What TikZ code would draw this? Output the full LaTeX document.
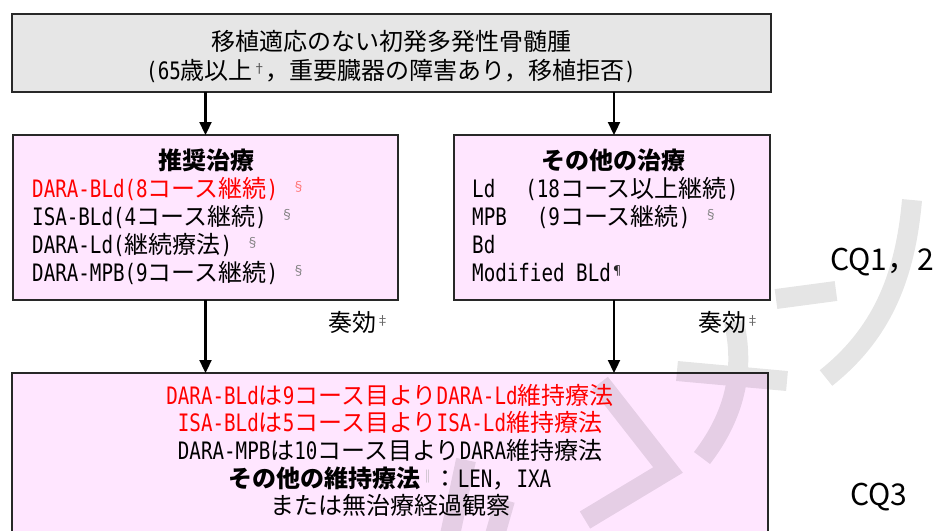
\documentclass[tikz,border=0pt]{standalone}
\usepackage{fontspec}
\setmainfont{Noto Sans CJK JP}
\newfontfamily\mono[FakeStretch=0.8]{DejaVu Sans Mono}
\usetikzlibrary{arrows.meta}
\definecolor{boxpink}{RGB}{255,230,255}
\definecolor{boxgray}{RGB}{230,230,230}
\definecolor{edgec}{RGB}{40,40,40}
\newcommand\mm[1]{{\mono #1}}
\newcommand\fnm[2]{\raisebox{6pt}{\fontsize{13}{13}\selectfont\textcolor{#1}{#2}}}
\begin{document}
\begin{tikzpicture}[x=1pt,y=-1pt,
  boxnode/.style={draw=edgec, line width=1.8pt, inner sep=0pt, outer sep=0pt, anchor=north west},
  txt/.style={anchor=base west, inner sep=0pt, font=\fontsize{24}{28}\selectfont},
  ctxt/.style={anchor=base, inner sep=0pt, font=\fontsize{24}{28}\selectfont},
  ttl/.style={anchor=base, inner sep=0pt, font=\fontsize{24}{28}\selectfont\bfseries},
  cqtxt/.style={anchor=base west, inner sep=0pt, font=\fontsize{30}{34}\selectfont},
  arr/.style={line width=2.3pt, -{Triangle[length=13pt,width=12pt]}},
  wm/.style={line width=20pt, black, line join=miter}]
\useasboundingbox (0,0) rectangle (934,530);
\clip (0,0) rectangle (934,530);
\fill[white] (0,0) rectangle (934,530);

% boxes
\node[boxnode, fill=boxgray, minimum width=759pt, minimum height=78pt] (top) at (12,14) {};
\node[boxnode, fill=boxpink, minimum width=385pt, minimum height=165pt] (rec) at (13,135) {};
\node[boxnode, fill=boxpink, minimum width=316pt, minimum height=165pt] (oth) at (454,135) {};
\node[boxnode, fill=boxpink, minimum width=756pt, minimum height=180pt] (maint) at (12,373) {};

% connectors
\draw[arr] (top.south -| rec.north) -- (rec.north);
\draw[arr] ([xshift=2pt]oth.north |- top.south) -- ([xshift=2pt]oth.north);
\draw[arr] (rec.south) -- (rec.south |- maint.north);
\draw[arr] ([xshift=2pt]oth.south) -- ([xshift=2pt]oth.south |- maint.north);

% watermark strokes
\begin{scope}[transparency group, opacity=0.1]
\draw[wm] (600,383) -- (668,470) -- (585,520);
\draw[wm] (677,371) -- (787,381);
\draw[wm] (734,322) .. controls (745,370) and (735,415) .. (702,458);
\draw[wm] (776,299) -- (836,291);
\draw[wm] (912,200) .. controls (905,280) and (880,335) .. (826,378);
\draw[wm] (466,460) -- (450,535);
\draw[wm] (505,500) -- (495,535);
\end{scope}

% top box text
\node[ctxt] (t1) at (391,50) {移植適応のない初発多発性骨髄腫};
\node[ctxt] (t2) at (391,79) {\mm{(65}歳以上\fnm{black!70}{†}，重要臓器の障害あり，移植拒否\mm{)}};

% recommended
\node[ttl] (rt) at (206,169) {推奨治療};
\node[txt, text=red] (r1) at (32,197) {\mm{DARA-BLd(8}コース継続\mm{)}\hspace{14pt}\fnm{red!55}{§}};
\node[txt] (r2) at (32,225) {\mm{ISA-BLd(4}コース継続\mm{)}\hspace{14pt}\fnm{black!50}{§}};
\node[txt] (r3) at (32,253) {\mm{DARA-Ld(}継続療法\mm{)}\hspace{14pt}\fnm{black!50}{§}};
\node[txt] (r4) at (32,281) {\mm{DARA-MPB(9}コース継続\mm{)}\hspace{14pt}\fnm{black!50}{§}};

% other
\node[ttl] (ot) at (613,169) {その他の治療};
\node[txt] (o1) at (472,197) {\mm{Ld}\hspace{30pt}\mm{(18}コース以上継続\mm{)}};
\node[txt] (o2) at (472,225) {\mm{MPB}\hspace{30pt}\mm{(9}コース継続\mm{)}\hspace{14pt}\fnm{black!50}{§}};
\node[txt] (o3) at (472,253) {\mm{Bd}};
\node[txt] (o4) at (472,281) {\mm{Modified BLd}\fnm{black!85}{¶}};

% response labels
\node[txt] (s1) at (328,331) {奏効\fnm{black!60}{‡}};
\node[txt] (s2) at (698,331) {奏効\fnm{black!60}{‡}};

% maintenance
\node[ctxt, text=red] (m1) at (390,404) {\mm{DARA-BLd}は\mm{9}コース目より\mm{DARA-Ld}維持療法};
\node[ctxt, text=red] (m2) at (390,431) {\mm{ISA-BLd}は\mm{5}コース目より\mm{ISA-Ld}維持療法};
\node[ctxt] (m3) at (390,459) {\mm{DARA-MPB}は\mm{10}コース目より\mm{DARA}維持療法};
\node[ctxt] (m4) at (390,487) {{\bfseries その他の維持療法}\fnm{black!35}{‖}：\mm{LEN}，\mm{IXA}};
\node[ctxt] (m5) at (390,514) {または無治療経過観察};

% CQ labels
\node[cqtxt] (cq12) at (830,270) {CQ1，2};
\node[cqtxt] (cq3) at (850,505) {CQ3};
\end{tikzpicture}
\end{document}
